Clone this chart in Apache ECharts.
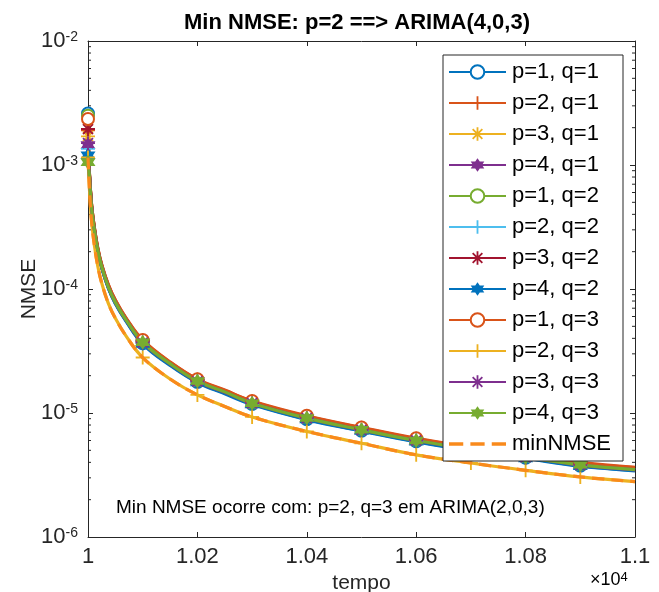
<!DOCTYPE html>
<html><head><meta charset="utf-8">
<script src="https://cdn.jsdelivr.net/npm/echarts@6/dist/echarts.min.js"></script>
<style>html,body{margin:0;padding:0;background:#fff}#c{width:659px;height:592px}</style>
</head><body><div id="c"></div>
<script>
// ---------- data ----------
const times = [10000, 10002, 10004, 10007, 10012, 10018, 10025, 10037, 10050, 10070, 10100, 10150, 10200, 10250, 10300, 10400, 10500, 10600, 10700, 10800, 10900, 11000];
const markerTimes = [10000, 10100, 10200, 10300, 10400, 10500, 10600, 10700, 10800, 10900];
const seriesNames = ['p=1, q=1','p=2, q=1','p=3, q=1','p=4, q=1','p=1, q=2','p=2, q=2','p=3, q=2','p=4, q=2','p=1, q=3','p=2, q=3','p=3, q=3','p=4, q=3','minNMSE'];
const nmse_p1q1 = [2.6e-3, 9.4e-4, 6.5e-4, 4.35e-4, 2.9e-4, 2.02e-4, 1.5e-4, 1.03e-4, 7.7e-5, 5.5e-5, 3.65e-5, 2.45e-5, 1.78e-5, 1.45e-5, 1.18e-5, 8.9e-6, 7.2e-6, 5.9e-6, 5.0e-6, 4.35e-6, 3.75e-6, 3.45e-6];
const nmse_p2q1 = [1.9e-3, 9.8e-4, 6.8e-4, 4.55e-4, 3.05e-4, 2.12e-4, 1.57e-4, 1.08e-4, 8.1e-5, 5.75e-5, 3.85e-5, 2.56e-5, 1.86e-5, 1.52e-5, 1.24e-5, 9.4e-6, 7.6e-6, 6.2e-6, 5.3e-6, 4.55e-6, 3.95e-6, 3.62e-6];
const nmse_p3q1 = [1.7e-3, 9.5e-4, 6.6e-4, 4.4e-4, 2.95e-4, 2.05e-4, 1.52e-4, 1.05e-4, 7.8e-5, 5.6e-5, 3.72e-5, 2.5e-5, 1.81e-5, 1.48e-5, 1.2e-5, 9.1e-6, 7.35e-6, 6.0e-6, 5.12e-6, 4.4e-6, 3.82e-6, 3.5e-6];
const nmse_p4q1 = [1.45e-3, 9.2e-4, 6.5e-4, 4.35e-4, 2.92e-4, 2.03e-4, 1.51e-4, 1.04e-4, 7.75e-5, 5.55e-5, 3.7e-5, 2.48e-5, 1.8e-5, 1.47e-5, 1.19e-5, 9.05e-6, 7.3e-6, 5.98e-6, 5.08e-6, 4.38e-6, 3.8e-6, 3.48e-6];
const nmse_p1q2 = [2.5e-3, 9.6e-4, 6.7e-4, 4.45e-4, 2.98e-4, 2.07e-4, 1.54e-4, 1.06e-4, 7.9e-5, 5.65e-5, 3.75e-5, 2.52e-5, 1.83e-5, 1.49e-5, 1.21e-5, 9.2e-6, 7.4e-6, 6.05e-6, 5.15e-6, 4.45e-6, 3.85e-6, 3.52e-6];
const nmse_p2q2 = [1.35e-3, 9.1e-4, 6.4e-4, 4.3e-4, 2.9e-4, 2.02e-4, 1.5e-4, 1.03e-4, 7.7e-5, 5.52e-5, 3.68e-5, 2.47e-5, 1.79e-5, 1.46e-5, 1.19e-5, 9.0e-6, 7.25e-6, 5.95e-6, 5.05e-6, 4.36e-6, 3.78e-6, 3.46e-6];
const nmse_p3q2 = [1.95e-3, 9.7e-4, 6.7e-4, 4.5e-4, 3.0e-4, 2.09e-4, 1.55e-4, 1.07e-4, 8.0e-5, 5.7e-5, 3.8e-5, 2.54e-5, 1.84e-5, 1.5e-5, 1.22e-5, 9.3e-6, 7.5e-6, 6.1e-6, 5.2e-6, 4.5e-6, 3.9e-6, 3.56e-6];
const nmse_p4q2 = [1.2e-3, 9.0e-4, 6.3e-4, 4.25e-4, 2.86e-4, 1.99e-4, 1.48e-4, 1.02e-4, 7.6e-5, 5.45e-5, 3.6e-5, 2.42e-5, 1.76e-5, 1.43e-5, 1.17e-5, 8.85e-6, 7.15e-6, 5.85e-6, 4.98e-6, 4.3e-6, 3.72e-6, 3.42e-6];
const nmse_p1q3 = [2.35e-3, 9.9e-4, 6.8e-4, 4.55e-4, 3.06e-4, 2.13e-4, 1.58e-4, 1.09e-4, 8.15e-5, 5.8e-5, 3.88e-5, 2.58e-5, 1.87e-5, 1.53e-5, 1.25e-5, 9.5e-6, 7.65e-6, 6.25e-6, 5.32e-6, 4.6e-6, 4.0e-6, 3.65e-6];
const nmse_p2q3 = [1.15e-3, 7.3e-4, 5.0e-4, 3.35e-4, 2.2e-4, 1.52e-4, 1.12e-4, 7.7e-5, 5.8e-5, 4.15e-5, 2.8e-5, 1.88e-5, 1.4e-5, 1.13e-5, 9.3e-6, 7.1e-6, 5.7e-6, 4.6e-6, 3.95e-6, 3.45e-6, 3.05e-6, 2.8e-6];
const nmse_p3q3 = [1.5e-3, 9.3e-4, 6.5e-4, 4.35e-4, 2.93e-4, 2.04e-4, 1.51e-4, 1.04e-4, 7.8e-5, 5.58e-5, 3.7e-5, 2.49e-5, 1.8e-5, 1.47e-5, 1.2e-5, 9.1e-6, 7.3e-6, 6.0e-6, 5.1e-6, 4.4e-6, 3.8e-6, 3.48e-6];
const nmse_p4q3 = [1.05e-3, 8.8e-4, 6.4e-4, 4.33e-4, 2.92e-4, 2.04e-4, 1.51e-4, 1.04e-4, 7.8e-5, 5.58e-5, 3.72e-5, 2.5e-5, 1.81e-5, 1.48e-5, 1.2e-5, 9.1e-6, 7.32e-6, 6.0e-6, 5.1e-6, 4.4e-6, 3.82e-6, 3.5e-6];
const nmse_min  = [1.15e-3, 7.3e-4, 5.0e-4, 3.35e-4, 2.2e-4, 1.52e-4, 1.12e-4, 7.7e-5, 5.8e-5, 4.15e-5, 2.8e-5, 1.88e-5, 1.4e-5, 1.13e-5, 9.3e-6, 7.1e-6, 5.7e-6, 4.6e-6, 3.95e-6, 3.45e-6, 3.05e-6, 2.8e-6];
const xTickLabels = ['1', '1.02', '1.04', '1.06', '1.08', '1.1'];
const yTickExps = [-6, -5, -4, -3, -2];
const yMinorTicks = [2e-6,3e-6,4e-6,5e-6,6e-6,7e-6,8e-6,9e-6,2e-5,3e-5,4e-5,5e-5,6e-5,7e-5,8e-5,9e-5,2e-4,3e-4,4e-4,5e-4,6e-4,7e-4,8e-4,9e-4,2e-3,3e-3,4e-3,5e-3,6e-3,7e-3,8e-3,9e-3];
const titleText = 'Min NMSE: p=2 ==> ARIMA(4,0,3)';
const noteText = 'Min NMSE ocorre com: p=2, q=3 em ARIMA(2,0,3)';

// ---------- styles ----------
const X_MIN = 10000, X_MAX = 11000;
const FONT = '"Liberation Sans", Arial, Helvetica, sans-serif';
const AX = '#262626';
const colors = ['#0072BD','#D95319','#EDB120','#7E2F8E','#77AC30','#4DBEEE','#A2142F','#0072BD','#D95319','#EDB120','#7E2F8E','#77AC30','#F98A1C'];
const PLUS = 'path://M8.8,1L11.2,1L11.2,8.8L19,8.8L19,11.2L11.2,11.2L11.2,19L8.8,19L8.8,11.2L1,11.2L1,8.8L8.8,8.8Z';
const AST = 'path://M8.8,1L11.2,1L11.2,19L8.8,19Z M1,8.8L19,8.8L19,11.2L1,11.2Z M4.45,2.75L17.25,15.55L15.55,17.25L2.75,4.45Z M15.55,2.75L17.25,4.45L4.45,17.25L2.75,15.55Z';
const HEX = 'path://M10,0L12.89,5L18.66,5L15.77,10L18.66,15L12.89,15L10,20L7.11,15L1.34,15L4.23,10L1.34,5L7.11,5Z';
const symByP = {1: 'emptyCircle', 2: PLUS, 3: AST, 4: HEX};
const sizeByP = {1: 12, 2: 14, 3: 14, 4: 15};
const allData = [nmse_p1q1,nmse_p2q1,nmse_p3q1,nmse_p4q1,nmse_p1q2,nmse_p2q2,nmse_p3q2,nmse_p4q2,nmse_p1q3,nmse_p2q3,nmse_p3q3,nmse_p4q3,nmse_min];

const series = seriesNames.map((name, k) => {
  const vals = allData[k];
  if (name === 'minNMSE') {
    return {
      name, type: 'line', symbol: 'none', smooth: 0.4,
      data: times.map((t, i) => [t, vals[i]]),
      lineStyle: {color: colors[k], width: 3.2, type: [12, 7]},
      itemStyle: {color: colors[k]}, z: 3
    };
  }
  const p = (k % 4) + 1;
  return {
    name, type: 'line', smooth: 0.4,
    symbol: symByP[p], symbolSize: sizeByP[p], showSymbol: true, showAllSymbol: true,
    data: times.map((t, i) => markerTimes.includes(t) ? {value: [t, vals[i]]} : {value: [t, vals[i]], symbol: 'none'}),
    lineStyle: {color: colors[k], width: 3.2},
    itemStyle: {color: colors[k], borderColor: colors[k], borderWidth: p === 1 ? 2.4 : 0},
    z: 2
  };
});

series.push({
  type: 'custom', silent: true, clip: false, z: 1,
  data: yMinorTicks.map(v => [X_MIN, v]),
  encode: {x: 0, y: 1},
  renderItem: (params, api) => {
    const v = api.value(1);
    const a = api.coord([X_MIN, v]);
    const b = api.coord([X_MAX, v]);
    return {type: 'group', children: [
      {type: 'line', shape: {x1: a[0], y1: a[1], x2: a[0] + 3, y2: a[1]}, style: {stroke: AX, lineWidth: 1}},
      {type: 'line', shape: {x1: b[0] - 3, y1: b[1], x2: b[0], y2: b[1]}, style: {stroke: AX, lineWidth: 1}}
    ]};
  }
});

const legendData = seriesNames.map(n => n === 'minNMSE'
  ? {name: n, icon: 'path://M0,0H14V3.2H0Z M21,0H35V3.2H21Z M42,0H56V3.2H42Z'}
  : {name: n});

const yLabelFmt = v => {
  const e = Math.round(Math.log10(v));
  return yTickExps.includes(e) ? '{b|10}{s|' + e + '}' : '';
};

const option = {
  animation: false,
  backgroundColor: '#fff',
  textStyle: {fontFamily: FONT},
  grid: {left: 88, right: 24, top: 41, bottom: 55, containLabel: false, outerBoundsMode: 'none'},
  legend: {
    data: legendData, orient: 'vertical', left: 443, top: 55,
    itemWidth: 57, itemHeight: 17, itemGap: 9,
    padding: [6, 12, 6, 5],
    backgroundColor: '#fff', borderColor: '#262626', borderWidth: 1,
    textStyle: {fontSize: 22, color: '#000', fontFamily: FONT, lineHeight: 22, padding: [0, 0, 0, 1]},
    selectedMode: false
  },
  xAxis: [{
    type: 'value', min: X_MIN, max: X_MAX, interval: 200,
    name: 'tempo', nameLocation: 'middle', nameGap: 36, nameMoveOverlap: false,
    nameTextStyle: {fontSize: 21, color: AX, fontFamily: FONT},
    axisLine: {show: true, lineStyle: {color: AX, width: 1}},
    axisTick: {show: true, inside: true, length: 5, lineStyle: {color: AX}},
    axisLabel: {fontSize: 22, color: AX, margin: 9, fontFamily: FONT,
      formatter: v => xTickLabels[Math.round((v - X_MIN) / 200)]},
    splitLine: {show: false}
  }, {
    type: 'value', min: X_MIN, max: X_MAX, interval: 200, position: 'top',
    axisLine: {show: true, lineStyle: {color: AX, width: 1}},
    axisTick: {show: true, inside: true, length: 5, lineStyle: {color: AX}},
    axisLabel: {show: false}, splitLine: {show: false}
  }],
  yAxis: [{
    type: 'log', logBase: 10, min: 1e-6, max: 1e-2, interval: 1,
    name: 'NMSE', nameLocation: 'middle', nameGap: 48, nameRotate: 90, nameMoveOverlap: false,
    nameTextStyle: {fontSize: 21, color: AX, fontFamily: FONT},
    axisLine: {show: true, lineStyle: {color: AX, width: 1}},
    axisTick: {show: true, inside: true, length: 5, lineStyle: {color: AX}},
    axisLabel: {color: AX, margin: 10, formatter: yLabelFmt,
      rich: {
        b: {fontSize: 22, color: AX, fontFamily: FONT, lineHeight: 22, verticalAlign: 'bottom'},
        s: {fontSize: 14, color: AX, fontFamily: FONT, lineHeight: 14, verticalAlign: 'top', padding: [0, 0, 13, 0]}
      }},
    splitLine: {show: false}
  }, {
    type: 'log', logBase: 10, min: 1e-6, max: 1e-2, interval: 1, position: 'right',
    axisLine: {show: true, lineStyle: {color: AX, width: 1}},
    axisTick: {show: true, inside: true, length: 5, lineStyle: {color: AX}},
    axisLabel: {show: false}, splitLine: {show: false}
  }],
  graphic: [
    {type: 'text', x: 357, y: 23, z: 100, style: {text: titleText, font: 'bold 22px ' + FONT, fill: '#000', align: 'center', verticalAlign: 'middle'}},
    {type: 'text', x: 116, y: 508, z: 100, style: {text: noteText, font: '19px ' + FONT, fill: '#000', align: 'left', verticalAlign: 'middle'}},
    {type: 'text', x: 590, y: 580, z: 100, style: {
      text: '{a|×10}{e|4}', verticalAlign: 'middle',
      rich: {a: {fontSize: 18, fontFamily: FONT, color: AX, lineHeight: 18, verticalAlign: 'bottom'},
             e: {fontSize: 13, fontFamily: FONT, color: AX, lineHeight: 13, verticalAlign: 'top', padding: [0, 0, 10, 0]}}}}
  ],
  series
};

const chart = echarts.init(document.getElementById('c'), null, {renderer: 'canvas'});
chart.setOption(option);
</script>
</body></html>
